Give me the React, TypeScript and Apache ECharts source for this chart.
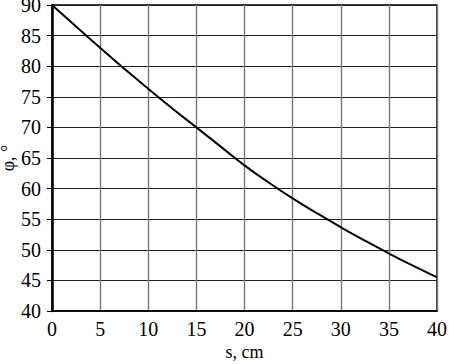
import React, { useEffect, useRef } from "react";
import * as echarts from "echarts";

const sValues = [0, 2.5, 5, 7.5, 10, 12.5, 15, 17.5, 20, 22.5, 25, 27.5, 30, 32.5, 35, 37.5, 40];
const phiValues = [90, 86.5, 83.0, 79.6, 76.3, 73.1, 70.0, 66.9, 63.8, 61.0, 58.4, 56.0, 53.7, 51.5, 49.4, 47.4, 45.5];
const xTicks = [0, 5, 10, 15, 20, 25, 30, 35, 40];
const yTicks = [40, 45, 50, 55, 60, 65, 70, 75, 80, 85, 90];
const xName = "s, cm";
const yName = "φ, °";

export default function App() {
  const ref = useRef<HTMLDivElement>(null);
  useEffect(() => {
    if (!ref.current) return;
    const chart = echarts.init(ref.current, null, { renderer: "svg" });
    const font = "Times New Roman";
    chart.setOption({
      animation: false,
      backgroundColor: "#fff",
      textStyle: { fontFamily: font, color: "#000" },
      grid: {
        left: 52,
        top: 5,
        right: 12,
        bottom: 53,
        containLabel: false,
        outerBoundsMode: "none",
        show: true,
        borderColor: "#000",
        borderWidth: 1.5,
        backgroundColor: "transparent",
      },
      xAxis: {
        type: "value",
        min: xTicks[0],
        max: xTicks[xTicks.length - 1],
        interval: 5,
        name: xName,
        nameLocation: "middle",
        nameGap: 32,
        nameMoveOverlap: false,
        nameTextStyle: { fontFamily: font, fontSize: 18, color: "#000" },
        axisLine: { show: true, lineStyle: { color: "#000", width: 1.5 } },
        axisTick: { show: false },
        axisLabel: { fontFamily: font, fontSize: 20, color: "#000", margin: 8 },
        splitLine: { show: true, lineStyle: { color: "#7a7a7a", width: 1.4 } },
      },
      yAxis: {
        type: "value",
        min: yTicks[0],
        max: yTicks[yTicks.length - 1],
        interval: 5,
        name: yName,
        nameLocation: "middle",
        nameGap: 35,
        nameMoveOverlap: false,
        nameRotate: 90,
        nameTextStyle: { fontFamily: font, fontSize: 18, color: "#000" },
        axisLine: { show: true, lineStyle: { color: "#000", width: 2.5 } },
        axisTick: { show: true, length: 5, lineStyle: { color: "#000", width: 1 } },
        axisLabel: { fontFamily: font, fontSize: 20, color: "#000", margin: 11 },
        splitLine: { show: true, lineStyle: { color: "#222", width: 1 } },
      },
      series: [
        {
          type: "line",
          data: sValues.map((s, i) => [s, phiValues[i]]),
          smooth: true,
          showSymbol: false,
          lineStyle: { color: "#000", width: 2 },
        },
      ],
    });
    return () => chart.dispose();
  }, []);
  return (
    <div
      ref={ref}
      style={{ position: "fixed", left: 0, top: 0, width: 449, height: 364, background: "#fff" }}
    />
  );
}
